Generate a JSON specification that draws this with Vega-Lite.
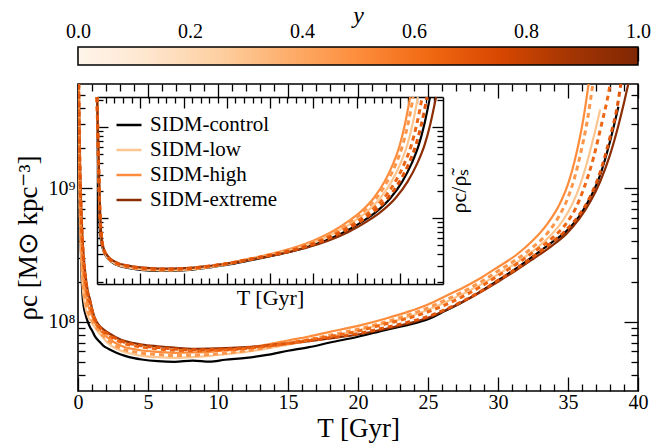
{
"$schema": "https://vega.github.io/schema/vega-lite/v6.json",
"width": 560,
"height": 307,
"autosize": {"type": "none"},
"padding": {"left": 78, "top": 84, "right": 25, "bottom": 54},
"config": {
  "font": "Liberation Serif",
  "view": {"stroke": "black", "strokeWidth": 1.6},
  "axis": {"grid": false, "domain": false, "domainColor": "black", "domainWidth": 1.5, "tickColor": "black", "tickWidth": 1.3, "labelColor": "black", "titleColor": "black", "labelFont": "Liberation Serif", "titleFont": "Liberation Serif", "titleFontWeight": "normal", "labelFontSize": 20, "titleFontSize": 27, "zindex": 1, "labelFlush": false, "labelOverlap": false},
  "legend": {"labelFont": "Liberation Serif", "labelColor": "black"}
},
"datasets": {
"main": [
{"series":"SIDM-control","T":0,"logrho":10.4},{"series":"SIDM-control","T":0.04,"logrho":9.8},{"series":"SIDM-control","T":0.08,"logrho":9.3},{"series":"SIDM-control","T":0.14,"logrho":8.85},{"series":"SIDM-control","T":0.2,"logrho":8.55},{"series":"SIDM-control","T":0.26,"logrho":8.33},{"series":"SIDM-control","T":0.32,"logrho":8.2},{"series":"SIDM-control","T":0.4,"logrho":8.12},{"series":"SIDM-control","T":0.55,"logrho":8.05},{"series":"SIDM-control","T":0.7,"logrho":8.0},{"series":"SIDM-control","T":0.86,"logrho":7.96},{"series":"SIDM-control","T":1.0,"logrho":7.935},{"series":"SIDM-control","T":1.2,"logrho":7.893},{"series":"SIDM-control","T":1.5,"logrho":7.855},{"series":"SIDM-control","T":1.8,"logrho":7.822},{"series":"SIDM-control","T":2.16,"logrho":7.798},{"series":"SIDM-control","T":2.7,"logrho":7.77},{"series":"SIDM-control","T":3.36,"logrho":7.745},{"series":"SIDM-control","T":4.0,"logrho":7.728},{"series":"SIDM-control","T":4.55,"logrho":7.718},{"series":"SIDM-control","T":5.7,"logrho":7.705},{"series":"SIDM-control","T":6.9,"logrho":7.7},{"series":"SIDM-control","T":8.2,"logrho":7.71},{"series":"SIDM-control","T":9.4,"logrho":7.702},{"series":"SIDM-control","T":10.5,"logrho":7.716},{"series":"SIDM-control","T":12,"logrho":7.73},{"series":"SIDM-control","T":13.5,"logrho":7.752},{"series":"SIDM-control","T":15,"logrho":7.783},{"series":"SIDM-control","T":16.5,"logrho":7.81},{"series":"SIDM-control","T":18,"logrho":7.845},{"series":"SIDM-control","T":20,"logrho":7.888},{"series":"SIDM-control","T":22,"logrho":7.94},{"series":"SIDM-control","T":23.7,"logrho":7.98},{"series":"SIDM-control","T":25,"logrho":8.02},{"series":"SIDM-control","T":26.2,"logrho":8.08},{"series":"SIDM-control","T":27.5,"logrho":8.15},{"series":"SIDM-control","T":28.8,"logrho":8.23},{"series":"SIDM-control","T":30,"logrho":8.31},{"series":"SIDM-control","T":31.3,"logrho":8.4},{"series":"SIDM-control","T":32.5,"logrho":8.49},{"series":"SIDM-control","T":33.8,"logrho":8.59},{"series":"SIDM-control","T":35,"logrho":8.69},{"series":"SIDM-control","T":35.8,"logrho":8.79},{"series":"SIDM-control","T":36.6,"logrho":8.93},{"series":"SIDM-control","T":37.3,"logrho":9.1},{"series":"SIDM-control","T":38,"logrho":9.35},{"series":"SIDM-control","T":38.6,"logrho":9.61},
{"series":"SIDM-low","T":0,"logrho":10.2},{"series":"SIDM-low","T":0.04,"logrho":9.6},{"series":"SIDM-low","T":0.08,"logrho":9.15},{"series":"SIDM-low","T":0.14,"logrho":8.8},{"series":"SIDM-low","T":0.2,"logrho":8.58},{"series":"SIDM-low","T":0.26,"logrho":8.41},{"series":"SIDM-low","T":0.32,"logrho":8.28},{"series":"SIDM-low","T":0.4,"logrho":8.19},{"series":"SIDM-low","T":0.55,"logrho":8.1},{"series":"SIDM-low","T":0.7,"logrho":8.045},{"series":"SIDM-low","T":0.86,"logrho":8.015},{"series":"SIDM-low","T":1.0,"logrho":7.99},{"series":"SIDM-low","T":1.2,"logrho":7.96},{"series":"SIDM-low","T":1.5,"logrho":7.915},{"series":"SIDM-low","T":1.8,"logrho":7.88},{"series":"SIDM-low","T":2.16,"logrho":7.838},{"series":"SIDM-low","T":2.7,"logrho":7.8},{"series":"SIDM-low","T":3.36,"logrho":7.772},{"series":"SIDM-low","T":4.0,"logrho":7.755},{"series":"SIDM-low","T":4.55,"logrho":7.745},{"series":"SIDM-low","T":5.7,"logrho":7.735},{"series":"SIDM-low","T":6.9,"logrho":7.73},{"series":"SIDM-low","T":8.2,"logrho":7.735},{"series":"SIDM-low","T":9.4,"logrho":7.745},{"series":"SIDM-low","T":10.5,"logrho":7.757},{"series":"SIDM-low","T":12,"logrho":7.775},{"series":"SIDM-low","T":13.5,"logrho":7.8},{"series":"SIDM-low","T":15,"logrho":7.828},{"series":"SIDM-low","T":16.5,"logrho":7.858},{"series":"SIDM-low","T":18,"logrho":7.89},{"series":"SIDM-low","T":20,"logrho":7.935},{"series":"SIDM-low","T":22,"logrho":7.99},{"series":"SIDM-low","T":23.7,"logrho":8.04},{"series":"SIDM-low","T":25,"logrho":8.09},{"series":"SIDM-low","T":26.2,"logrho":8.145},{"series":"SIDM-low","T":27.5,"logrho":8.21},{"series":"SIDM-low","T":28.8,"logrho":8.28},{"series":"SIDM-low","T":30,"logrho":8.355},{"series":"SIDM-low","T":31.3,"logrho":8.44},{"series":"SIDM-low","T":32.5,"logrho":8.53},{"series":"SIDM-low","T":33.5,"logrho":8.62},{"series":"SIDM-low","T":34.3,"logrho":8.71},{"series":"SIDM-low","T":35,"logrho":8.82},{"series":"SIDM-low","T":35.6,"logrho":8.95},{"series":"SIDM-low","T":36.3,"logrho":9.17},{"series":"SIDM-low","T":36.8,"logrho":9.37},{"series":"SIDM-low","T":37.3,"logrho":9.59},
{"series":"SIDM-high","T":0,"logrho":10.4},{"series":"SIDM-high","T":0.04,"logrho":9.8},{"series":"SIDM-high","T":0.08,"logrho":9.35},{"series":"SIDM-high","T":0.14,"logrho":9.0},{"series":"SIDM-high","T":0.2,"logrho":8.75},{"series":"SIDM-high","T":0.26,"logrho":8.57},{"series":"SIDM-high","T":0.32,"logrho":8.44},{"series":"SIDM-high","T":0.4,"logrho":8.33},{"series":"SIDM-high","T":0.55,"logrho":8.21},{"series":"SIDM-high","T":0.7,"logrho":8.13},{"series":"SIDM-high","T":0.86,"logrho":8.08},{"series":"SIDM-high","T":1.0,"logrho":8.045},{"series":"SIDM-high","T":1.2,"logrho":7.995},{"series":"SIDM-high","T":1.5,"logrho":7.945},{"series":"SIDM-high","T":1.8,"logrho":7.91},{"series":"SIDM-high","T":2.16,"logrho":7.878},{"series":"SIDM-high","T":2.7,"logrho":7.84},{"series":"SIDM-high","T":3.36,"logrho":7.81},{"series":"SIDM-high","T":4.0,"logrho":7.795},{"series":"SIDM-high","T":4.55,"logrho":7.785},{"series":"SIDM-high","T":5.7,"logrho":7.775},{"series":"SIDM-high","T":6.9,"logrho":7.768},{"series":"SIDM-high","T":8.2,"logrho":7.77},{"series":"SIDM-high","T":9.4,"logrho":7.775},{"series":"SIDM-high","T":10.5,"logrho":7.785},{"series":"SIDM-high","T":12,"logrho":7.803},{"series":"SIDM-high","T":13.5,"logrho":7.83},{"series":"SIDM-high","T":15,"logrho":7.86},{"series":"SIDM-high","T":16.5,"logrho":7.89},{"series":"SIDM-high","T":18,"logrho":7.925},{"series":"SIDM-high","T":20,"logrho":7.97},{"series":"SIDM-high","T":22,"logrho":8.025},{"series":"SIDM-high","T":23.7,"logrho":8.08},{"series":"SIDM-high","T":25,"logrho":8.13},{"series":"SIDM-high","T":26.2,"logrho":8.19},{"series":"SIDM-high","T":27.5,"logrho":8.255},{"series":"SIDM-high","T":28.8,"logrho":8.33},{"series":"SIDM-high","T":30,"logrho":8.41},{"series":"SIDM-high","T":31.3,"logrho":8.5},{"series":"SIDM-high","T":32.5,"logrho":8.61},{"series":"SIDM-high","T":33.5,"logrho":8.73},{"series":"SIDM-high","T":34.4,"logrho":8.88},{"series":"SIDM-high","T":35,"logrho":9.03},{"series":"SIDM-high","T":35.6,"logrho":9.26},{"series":"SIDM-high","T":36.1,"logrho":9.52},{"series":"SIDM-high","T":36.5,"logrho":9.8},
{"series":"SIDM-extreme","T":0,"logrho":10.7},{"series":"SIDM-extreme","T":0.04,"logrho":10.0},{"series":"SIDM-extreme","T":0.08,"logrho":9.6},{"series":"SIDM-extreme","T":0.14,"logrho":9.2},{"series":"SIDM-extreme","T":0.2,"logrho":8.95},{"series":"SIDM-extreme","T":0.26,"logrho":8.77},{"series":"SIDM-extreme","T":0.32,"logrho":8.63},{"series":"SIDM-extreme","T":0.4,"logrho":8.5},{"series":"SIDM-extreme","T":0.55,"logrho":8.34},{"series":"SIDM-extreme","T":0.7,"logrho":8.23},{"series":"SIDM-extreme","T":0.86,"logrho":8.167},{"series":"SIDM-extreme","T":1.0,"logrho":8.1},{"series":"SIDM-extreme","T":1.2,"logrho":8.03},{"series":"SIDM-extreme","T":1.5,"logrho":7.975},{"series":"SIDM-extreme","T":1.8,"logrho":7.945},{"series":"SIDM-extreme","T":2.16,"logrho":7.918},{"series":"SIDM-extreme","T":2.7,"logrho":7.885},{"series":"SIDM-extreme","T":3.36,"logrho":7.855},{"series":"SIDM-extreme","T":4.0,"logrho":7.84},{"series":"SIDM-extreme","T":4.55,"logrho":7.83},{"series":"SIDM-extreme","T":5.7,"logrho":7.817},{"series":"SIDM-extreme","T":6.9,"logrho":7.806},{"series":"SIDM-extreme","T":8.2,"logrho":7.798},{"series":"SIDM-extreme","T":9.4,"logrho":7.8},{"series":"SIDM-extreme","T":10.5,"logrho":7.803},{"series":"SIDM-extreme","T":12,"logrho":7.81},{"series":"SIDM-extreme","T":13.5,"logrho":7.823},{"series":"SIDM-extreme","T":15,"logrho":7.838},{"series":"SIDM-extreme","T":16.5,"logrho":7.855},{"series":"SIDM-extreme","T":18,"logrho":7.875},{"series":"SIDM-extreme","T":20,"logrho":7.905},{"series":"SIDM-extreme","T":22,"logrho":7.948},{"series":"SIDM-extreme","T":23.7,"logrho":7.99},{"series":"SIDM-extreme","T":25,"logrho":8.03},{"series":"SIDM-extreme","T":26.2,"logrho":8.085},{"series":"SIDM-extreme","T":27.5,"logrho":8.15},{"series":"SIDM-extreme","T":28.8,"logrho":8.225},{"series":"SIDM-extreme","T":30,"logrho":8.3},{"series":"SIDM-extreme","T":31.3,"logrho":8.385},{"series":"SIDM-extreme","T":32.5,"logrho":8.47},{"series":"SIDM-extreme","T":33.8,"logrho":8.565},{"series":"SIDM-extreme","T":34.9,"logrho":8.66},{"series":"SIDM-extreme","T":35.8,"logrho":8.77},{"series":"SIDM-extreme","T":36.6,"logrho":8.9},{"series":"SIDM-extreme","T":37.3,"logrho":9.05},{"series":"SIDM-extreme","T":38,"logrho":9.25},{"series":"SIDM-extreme","T":38.6,"logrho":9.47},{"series":"SIDM-extreme","T":39,"logrho":9.64},{"series":"SIDM-extreme","T":39.35,"logrho":9.8},
{"series":"y=0.375","y_param":0.375,"T":0,"logrho":10.3},{"series":"y=0.375","y_param":0.375,"T":0.04,"logrho":9.7},{"series":"y=0.375","y_param":0.375,"T":0.08,"logrho":9.25},{"series":"y=0.375","y_param":0.375,"T":0.14,"logrho":8.9},{"series":"y=0.375","y_param":0.375,"T":0.2,"logrho":8.65},{"series":"y=0.375","y_param":0.375,"T":0.26,"logrho":8.47},{"series":"y=0.375","y_param":0.375,"T":0.32,"logrho":8.35},{"series":"y=0.375","y_param":0.375,"T":0.4,"logrho":8.25},{"series":"y=0.375","y_param":0.375,"T":0.55,"logrho":8.15},{"series":"y=0.375","y_param":0.375,"T":0.7,"logrho":8.08},{"series":"y=0.375","y_param":0.375,"T":0.86,"logrho":8.045},{"series":"y=0.375","y_param":0.375,"T":1.0,"logrho":8.015},{"series":"y=0.375","y_param":0.375,"T":1.2,"logrho":7.975},{"series":"y=0.375","y_param":0.375,"T":1.5,"logrho":7.93},{"series":"y=0.375","y_param":0.375,"T":1.8,"logrho":7.895},{"series":"y=0.375","y_param":0.375,"T":2.16,"logrho":7.86},{"series":"y=0.375","y_param":0.375,"T":2.7,"logrho":7.82},{"series":"y=0.375","y_param":0.375,"T":3.36,"logrho":7.79},{"series":"y=0.375","y_param":0.375,"T":4.0,"logrho":7.775},{"series":"y=0.375","y_param":0.375,"T":4.55,"logrho":7.765},{"series":"y=0.375","y_param":0.375,"T":5.7,"logrho":7.755},{"series":"y=0.375","y_param":0.375,"T":6.9,"logrho":7.748},{"series":"y=0.375","y_param":0.375,"T":8.2,"logrho":7.75},{"series":"y=0.375","y_param":0.375,"T":9.4,"logrho":7.755},{"series":"y=0.375","y_param":0.375,"T":10.5,"logrho":7.765},{"series":"y=0.375","y_param":0.375,"T":12,"logrho":7.783},{"series":"y=0.375","y_param":0.375,"T":13.5,"logrho":7.808},{"series":"y=0.375","y_param":0.375,"T":15,"logrho":7.837},{"series":"y=0.375","y_param":0.375,"T":16.5,"logrho":7.867},{"series":"y=0.375","y_param":0.375,"T":18,"logrho":7.9},{"series":"y=0.375","y_param":0.375,"T":20,"logrho":7.945},{"series":"y=0.375","y_param":0.375,"T":22,"logrho":8.0},{"series":"y=0.375","y_param":0.375,"T":23.7,"logrho":8.055},{"series":"y=0.375","y_param":0.375,"T":25,"logrho":8.105},{"series":"y=0.375","y_param":0.375,"T":26.2,"logrho":8.16},{"series":"y=0.375","y_param":0.375,"T":27.5,"logrho":8.225},{"series":"y=0.375","y_param":0.375,"T":28.8,"logrho":8.3},{"series":"y=0.375","y_param":0.375,"T":30,"logrho":8.38},{"series":"y=0.375","y_param":0.375,"T":31.3,"logrho":8.465},{"series":"y=0.375","y_param":0.375,"T":32.5,"logrho":8.56},{"series":"y=0.375","y_param":0.375,"T":33.5,"logrho":8.66},{"series":"y=0.375","y_param":0.375,"T":34.3,"logrho":8.78},{"series":"y=0.375","y_param":0.375,"T":35,"logrho":8.93},{"series":"y=0.375","y_param":0.375,"T":35.5,"logrho":9.09},{"series":"y=0.375","y_param":0.375,"T":35.9,"logrho":9.26},{"series":"y=0.375","y_param":0.375,"T":36.4,"logrho":9.52},{"series":"y=0.375","y_param":0.375,"T":36.8,"logrho":9.8},
{"series":"y=0.62","y_param":0.62,"T":0,"logrho":10.6},{"series":"y=0.62","y_param":0.62,"T":0.04,"logrho":9.95},{"series":"y=0.62","y_param":0.62,"T":0.08,"logrho":9.5},{"series":"y=0.62","y_param":0.62,"T":0.14,"logrho":9.12},{"series":"y=0.62","y_param":0.62,"T":0.2,"logrho":8.87},{"series":"y=0.62","y_param":0.62,"T":0.26,"logrho":8.69},{"series":"y=0.62","y_param":0.62,"T":0.32,"logrho":8.56},{"series":"y=0.62","y_param":0.62,"T":0.4,"logrho":8.44},{"series":"y=0.62","y_param":0.62,"T":0.55,"logrho":8.29},{"series":"y=0.62","y_param":0.62,"T":0.7,"logrho":8.19},{"series":"y=0.62","y_param":0.62,"T":0.86,"logrho":8.13},{"series":"y=0.62","y_param":0.62,"T":1.0,"logrho":8.075},{"series":"y=0.62","y_param":0.62,"T":1.2,"logrho":8.01},{"series":"y=0.62","y_param":0.62,"T":1.5,"logrho":7.955},{"series":"y=0.62","y_param":0.62,"T":1.8,"logrho":7.925},{"series":"y=0.62","y_param":0.62,"T":2.16,"logrho":7.898},{"series":"y=0.62","y_param":0.62,"T":2.7,"logrho":7.865},{"series":"y=0.62","y_param":0.62,"T":3.36,"logrho":7.835},{"series":"y=0.62","y_param":0.62,"T":4.0,"logrho":7.82},{"series":"y=0.62","y_param":0.62,"T":4.55,"logrho":7.81},{"series":"y=0.62","y_param":0.62,"T":5.7,"logrho":7.797},{"series":"y=0.62","y_param":0.62,"T":6.9,"logrho":7.787},{"series":"y=0.62","y_param":0.62,"T":8.2,"logrho":7.782},{"series":"y=0.62","y_param":0.62,"T":9.4,"logrho":7.785},{"series":"y=0.62","y_param":0.62,"T":10.5,"logrho":7.79},{"series":"y=0.62","y_param":0.62,"T":12,"logrho":7.8},{"series":"y=0.62","y_param":0.62,"T":13.5,"logrho":7.818},{"series":"y=0.62","y_param":0.62,"T":15,"logrho":7.84},{"series":"y=0.62","y_param":0.62,"T":16.5,"logrho":7.865},{"series":"y=0.62","y_param":0.62,"T":18,"logrho":7.89},{"series":"y=0.62","y_param":0.62,"T":20,"logrho":7.93},{"series":"y=0.62","y_param":0.62,"T":22,"logrho":7.985},{"series":"y=0.62","y_param":0.62,"T":23.7,"logrho":8.03},{"series":"y=0.62","y_param":0.62,"T":25,"logrho":8.075},{"series":"y=0.62","y_param":0.62,"T":26.2,"logrho":8.125},{"series":"y=0.62","y_param":0.62,"T":27.5,"logrho":8.19},{"series":"y=0.62","y_param":0.62,"T":28.8,"logrho":8.265},{"series":"y=0.62","y_param":0.62,"T":30,"logrho":8.345},{"series":"y=0.62","y_param":0.62,"T":31.3,"logrho":8.43},{"series":"y=0.62","y_param":0.62,"T":32.5,"logrho":8.52},{"series":"y=0.62","y_param":0.62,"T":33.8,"logrho":8.62},{"series":"y=0.62","y_param":0.62,"T":34.9,"logrho":8.74},{"series":"y=0.62","y_param":0.62,"T":35.5,"logrho":8.84},{"series":"y=0.62","y_param":0.62,"T":36.1,"logrho":8.99},{"series":"y=0.62","y_param":0.62,"T":36.8,"logrho":9.22},{"series":"y=0.62","y_param":0.62,"T":37.4,"logrho":9.48},{"series":"y=0.62","y_param":0.62,"T":37.8,"logrho":9.66},{"series":"y=0.62","y_param":0.62,"T":38.05,"logrho":9.8},
{"series":"y=0.72","y_param":0.72,"T":0,"logrho":10.65},{"series":"y=0.72","y_param":0.72,"T":0.04,"logrho":9.97},{"series":"y=0.72","y_param":0.72,"T":0.08,"logrho":9.55},{"series":"y=0.72","y_param":0.72,"T":0.14,"logrho":9.16},{"series":"y=0.72","y_param":0.72,"T":0.2,"logrho":8.91},{"series":"y=0.72","y_param":0.72,"T":0.26,"logrho":8.73},{"series":"y=0.72","y_param":0.72,"T":0.32,"logrho":8.6},{"series":"y=0.72","y_param":0.72,"T":0.4,"logrho":8.47},{"series":"y=0.72","y_param":0.72,"T":0.55,"logrho":8.315},{"series":"y=0.72","y_param":0.72,"T":0.7,"logrho":8.21},{"series":"y=0.72","y_param":0.72,"T":0.86,"logrho":8.15},{"series":"y=0.72","y_param":0.72,"T":1.0,"logrho":8.088},{"series":"y=0.72","y_param":0.72,"T":1.2,"logrho":8.02},{"series":"y=0.72","y_param":0.72,"T":1.5,"logrho":7.965},{"series":"y=0.72","y_param":0.72,"T":1.8,"logrho":7.935},{"series":"y=0.72","y_param":0.72,"T":2.16,"logrho":7.908},{"series":"y=0.72","y_param":0.72,"T":2.7,"logrho":7.875},{"series":"y=0.72","y_param":0.72,"T":3.36,"logrho":7.845},{"series":"y=0.72","y_param":0.72,"T":4.0,"logrho":7.83},{"series":"y=0.72","y_param":0.72,"T":4.55,"logrho":7.82},{"series":"y=0.72","y_param":0.72,"T":5.7,"logrho":7.807},{"series":"y=0.72","y_param":0.72,"T":6.9,"logrho":7.797},{"series":"y=0.72","y_param":0.72,"T":8.2,"logrho":7.79},{"series":"y=0.72","y_param":0.72,"T":9.4,"logrho":7.792},{"series":"y=0.72","y_param":0.72,"T":10.5,"logrho":7.796},{"series":"y=0.72","y_param":0.72,"T":12,"logrho":7.805},{"series":"y=0.72","y_param":0.72,"T":13.5,"logrho":7.82},{"series":"y=0.72","y_param":0.72,"T":15,"logrho":7.838},{"series":"y=0.72","y_param":0.72,"T":16.5,"logrho":7.858},{"series":"y=0.72","y_param":0.72,"T":18,"logrho":7.88},{"series":"y=0.72","y_param":0.72,"T":20,"logrho":7.912},{"series":"y=0.72","y_param":0.72,"T":22,"logrho":7.958},{"series":"y=0.72","y_param":0.72,"T":23.7,"logrho":8.0},{"series":"y=0.72","y_param":0.72,"T":25,"logrho":8.04},{"series":"y=0.72","y_param":0.72,"T":26.2,"logrho":8.09},{"series":"y=0.72","y_param":0.72,"T":27.5,"logrho":8.155},{"series":"y=0.72","y_param":0.72,"T":28.8,"logrho":8.23},{"series":"y=0.72","y_param":0.72,"T":30,"logrho":8.31},{"series":"y=0.72","y_param":0.72,"T":31.3,"logrho":8.395},{"series":"y=0.72","y_param":0.72,"T":32.5,"logrho":8.485},{"series":"y=0.72","y_param":0.72,"T":33.8,"logrho":8.59},{"series":"y=0.72","y_param":0.72,"T":34.9,"logrho":8.69},{"series":"y=0.72","y_param":0.72,"T":35.8,"logrho":8.8},{"series":"y=0.72","y_param":0.72,"T":36.6,"logrho":8.94},{"series":"y=0.72","y_param":0.72,"T":37.3,"logrho":9.12},{"series":"y=0.72","y_param":0.72,"T":38,"logrho":9.38},{"series":"y=0.72","y_param":0.72,"T":38.5,"logrho":9.6},{"series":"y=0.72","y_param":0.72,"T":38.8,"logrho":9.8}
],
"inset": [
{"series":"SIDM-high","T":0,"logratio":2.329},{"series":"SIDM-high","T":0.03,"logratio":1.7},{"series":"SIDM-high","T":0.06,"logratio":1.15},{"series":"SIDM-high","T":0.1,"logratio":0.8},{"series":"SIDM-high","T":0.15,"logratio":0.66},{"series":"SIDM-high","T":0.25,"logratio":0.57},{"series":"SIDM-high","T":0.45,"logratio":0.5},{"series":"SIDM-high","T":0.72,"logratio":0.465},{"series":"SIDM-high","T":1.0,"logratio":0.445},{"series":"SIDM-high","T":1.3,"logratio":0.435},{"series":"SIDM-high","T":1.6,"logratio":0.432},{"series":"SIDM-high","T":1.9,"logratio":0.435},{"series":"SIDM-high","T":2.2,"logratio":0.445},{"series":"SIDM-high","T":2.6,"logratio":0.47},{"series":"SIDM-high","T":3.0,"logratio":0.5},{"series":"SIDM-high","T":3.4,"logratio":0.54},{"series":"SIDM-high","T":3.8,"logratio":0.58},{"series":"SIDM-high","T":4.2,"logratio":0.625},{"series":"SIDM-high","T":4.6,"logratio":0.68},{"series":"SIDM-high","T":5.0,"logratio":0.75},{"series":"SIDM-high","T":5.4,"logratio":0.84},{"series":"SIDM-high","T":5.8,"logratio":0.96},{"series":"SIDM-high","T":6.1,"logratio":1.07},{"series":"SIDM-high","T":6.4,"logratio":1.22},{"series":"SIDM-high","T":6.65,"logratio":1.4},{"series":"SIDM-high","T":6.85,"logratio":1.6},{"series":"SIDM-high","T":7.0,"logratio":1.8},{"series":"SIDM-high","T":7.12,"logratio":2.03},{"series":"SIDM-high","T":7.24,"logratio":2.329},
{"series":"y=0.375","y_param":0.375,"T":0,"logratio":2.329},{"series":"y=0.375","y_param":0.375,"T":0.03,"logratio":1.69},{"series":"y=0.375","y_param":0.375,"T":0.06,"logratio":1.14},{"series":"y=0.375","y_param":0.375,"T":0.1,"logratio":0.795},{"series":"y=0.375","y_param":0.375,"T":0.15,"logratio":0.656},{"series":"y=0.375","y_param":0.375,"T":0.25,"logratio":0.566},{"series":"y=0.375","y_param":0.375,"T":0.45,"logratio":0.496},{"series":"y=0.375","y_param":0.375,"T":0.72,"logratio":0.461},{"series":"y=0.375","y_param":0.375,"T":1.0,"logratio":0.441},{"series":"y=0.375","y_param":0.375,"T":1.3,"logratio":0.431},{"series":"y=0.375","y_param":0.375,"T":1.6,"logratio":0.428},{"series":"y=0.375","y_param":0.375,"T":1.9,"logratio":0.431},{"series":"y=0.375","y_param":0.375,"T":2.203,"logratio":0.441},{"series":"y=0.375","y_param":0.375,"T":2.608,"logratio":0.466},{"series":"y=0.375","y_param":0.375,"T":3.013,"logratio":0.497},{"series":"y=0.375","y_param":0.375,"T":3.419,"logratio":0.537},{"series":"y=0.375","y_param":0.375,"T":3.824,"logratio":0.578},{"series":"y=0.375","y_param":0.375,"T":4.229,"logratio":0.624},{"series":"y=0.375","y_param":0.375,"T":4.635,"logratio":0.68},{"series":"y=0.375","y_param":0.375,"T":5.04,"logratio":0.75},{"series":"y=0.375","y_param":0.375,"T":5.446,"logratio":0.84},{"series":"y=0.375","y_param":0.375,"T":5.851,"logratio":0.96},{"series":"y=0.375","y_param":0.375,"T":6.155,"logratio":1.07},{"series":"y=0.375","y_param":0.375,"T":6.459,"logratio":1.22},{"series":"y=0.375","y_param":0.375,"T":6.712,"logratio":1.4},{"series":"y=0.375","y_param":0.375,"T":6.915,"logratio":1.6},{"series":"y=0.375","y_param":0.375,"T":7.067,"logratio":1.8},{"series":"y=0.375","y_param":0.375,"T":7.189,"logratio":2.03},{"series":"y=0.375","y_param":0.375,"T":7.31,"logratio":2.329},
{"series":"SIDM-low","T":0,"logratio":2.329},{"series":"SIDM-low","T":0.03,"logratio":1.68},{"series":"SIDM-low","T":0.06,"logratio":1.13},{"series":"SIDM-low","T":0.1,"logratio":0.79},{"series":"SIDM-low","T":0.15,"logratio":0.652},{"series":"SIDM-low","T":0.25,"logratio":0.562},{"series":"SIDM-low","T":0.45,"logratio":0.492},{"series":"SIDM-low","T":0.72,"logratio":0.457},{"series":"SIDM-low","T":1.0,"logratio":0.437},{"series":"SIDM-low","T":1.3,"logratio":0.427},{"series":"SIDM-low","T":1.6,"logratio":0.424},{"series":"SIDM-low","T":1.9,"logratio":0.427},{"series":"SIDM-low","T":2.207,"logratio":0.437},{"series":"SIDM-low","T":2.621,"logratio":0.463},{"series":"SIDM-low","T":3.034,"logratio":0.494},{"series":"SIDM-low","T":3.448,"logratio":0.535},{"series":"SIDM-low","T":3.862,"logratio":0.576},{"series":"SIDM-low","T":4.276,"logratio":0.622},{"series":"SIDM-low","T":4.689,"logratio":0.678},{"series":"SIDM-low","T":5.103,"logratio":0.749},{"series":"SIDM-low","T":5.517,"logratio":0.84},{"series":"SIDM-low","T":5.931,"logratio":0.96},{"series":"SIDM-low","T":6.241,"logratio":1.07},{"series":"SIDM-low","T":6.551,"logratio":1.22},{"series":"SIDM-low","T":6.81,"logratio":1.4},{"series":"SIDM-low","T":7.017,"logratio":1.6},{"series":"SIDM-low","T":7.172,"logratio":1.8},{"series":"SIDM-low","T":7.296,"logratio":2.03},{"series":"SIDM-low","T":7.42,"logratio":2.329},
{"series":"y=0.62","y_param":0.62,"T":0,"logratio":2.329},{"series":"y=0.62","y_param":0.62,"T":0.03,"logratio":1.71},{"series":"y=0.62","y_param":0.62,"T":0.06,"logratio":1.16},{"series":"y=0.62","y_param":0.62,"T":0.1,"logratio":0.805},{"series":"y=0.62","y_param":0.62,"T":0.15,"logratio":0.664},{"series":"y=0.62","y_param":0.62,"T":0.25,"logratio":0.574},{"series":"y=0.62","y_param":0.62,"T":0.45,"logratio":0.504},{"series":"y=0.62","y_param":0.62,"T":0.72,"logratio":0.469},{"series":"y=0.62","y_param":0.62,"T":1.0,"logratio":0.449},{"series":"y=0.62","y_param":0.62,"T":1.3,"logratio":0.439},{"series":"y=0.62","y_param":0.62,"T":1.6,"logratio":0.436},{"series":"y=0.62","y_param":0.62,"T":1.9,"logratio":0.439},{"series":"y=0.62","y_param":0.62,"T":2.211,"logratio":0.448},{"series":"y=0.62","y_param":0.62,"T":2.632,"logratio":0.472},{"series":"y=0.62","y_param":0.62,"T":3.053,"logratio":0.502},{"series":"y=0.62","y_param":0.62,"T":3.475,"logratio":0.541},{"series":"y=0.62","y_param":0.62,"T":3.896,"logratio":0.58},{"series":"y=0.62","y_param":0.62,"T":4.317,"logratio":0.625},{"series":"y=0.62","y_param":0.62,"T":4.739,"logratio":0.68},{"series":"y=0.62","y_param":0.62,"T":5.16,"logratio":0.75},{"series":"y=0.62","y_param":0.62,"T":5.582,"logratio":0.84},{"series":"y=0.62","y_param":0.62,"T":6.003,"logratio":0.96},{"series":"y=0.62","y_param":0.62,"T":6.319,"logratio":1.07},{"series":"y=0.62","y_param":0.62,"T":6.635,"logratio":1.22},{"series":"y=0.62","y_param":0.62,"T":6.898,"logratio":1.4},{"series":"y=0.62","y_param":0.62,"T":7.109,"logratio":1.6},{"series":"y=0.62","y_param":0.62,"T":7.267,"logratio":1.8},{"series":"y=0.62","y_param":0.62,"T":7.393,"logratio":2.03},{"series":"y=0.62","y_param":0.62,"T":7.52,"logratio":2.329},
{"series":"y=0.72","y_param":0.72,"T":0,"logratio":2.329},{"series":"y=0.72","y_param":0.72,"T":0.03,"logratio":1.72},{"series":"y=0.72","y_param":0.72,"T":0.06,"logratio":1.17},{"series":"y=0.72","y_param":0.72,"T":0.1,"logratio":0.81},{"series":"y=0.72","y_param":0.72,"T":0.15,"logratio":0.668},{"series":"y=0.72","y_param":0.72,"T":0.25,"logratio":0.578},{"series":"y=0.72","y_param":0.72,"T":0.45,"logratio":0.508},{"series":"y=0.72","y_param":0.72,"T":0.72,"logratio":0.473},{"series":"y=0.72","y_param":0.72,"T":1.0,"logratio":0.453},{"series":"y=0.72","y_param":0.72,"T":1.3,"logratio":0.443},{"series":"y=0.72","y_param":0.72,"T":1.6,"logratio":0.44},{"series":"y=0.72","y_param":0.72,"T":1.9,"logratio":0.443},{"series":"y=0.72","y_param":0.72,"T":2.215,"logratio":0.451},{"series":"y=0.72","y_param":0.72,"T":2.645,"logratio":0.475},{"series":"y=0.72","y_param":0.72,"T":3.074,"logratio":0.504},{"series":"y=0.72","y_param":0.72,"T":3.504,"logratio":0.543},{"series":"y=0.72","y_param":0.72,"T":3.934,"logratio":0.582},{"series":"y=0.72","y_param":0.72,"T":4.364,"logratio":0.626},{"series":"y=0.72","y_param":0.72,"T":4.793,"logratio":0.68},{"series":"y=0.72","y_param":0.72,"T":5.223,"logratio":0.75},{"series":"y=0.72","y_param":0.72,"T":5.653,"logratio":0.84},{"series":"y=0.72","y_param":0.72,"T":6.083,"logratio":0.96},{"series":"y=0.72","y_param":0.72,"T":6.405,"logratio":1.07},{"series":"y=0.72","y_param":0.72,"T":6.727,"logratio":1.22},{"series":"y=0.72","y_param":0.72,"T":6.996,"logratio":1.4},{"series":"y=0.72","y_param":0.72,"T":7.211,"logratio":1.6},{"series":"y=0.72","y_param":0.72,"T":7.372,"logratio":1.8},{"series":"y=0.72","y_param":0.72,"T":7.501,"logratio":2.03},{"series":"y=0.72","y_param":0.72,"T":7.63,"logratio":2.329},
{"series":"SIDM-control","T":0,"logratio":2.329},{"series":"SIDM-control","T":0.025,"logratio":1.6},{"series":"SIDM-control","T":0.05,"logratio":1.08},{"series":"SIDM-control","T":0.09,"logratio":0.76},{"series":"SIDM-control","T":0.15,"logratio":0.64},{"series":"SIDM-control","T":0.25,"logratio":0.555},{"series":"SIDM-control","T":0.45,"logratio":0.485},{"series":"SIDM-control","T":0.72,"logratio":0.45},{"series":"SIDM-control","T":1.0,"logratio":0.43},{"series":"SIDM-control","T":1.3,"logratio":0.42},{"series":"SIDM-control","T":1.6,"logratio":0.418},{"series":"SIDM-control","T":1.9,"logratio":0.422},{"series":"SIDM-control","T":2.218,"logratio":0.433},{"series":"SIDM-control","T":2.653,"logratio":0.46},{"series":"SIDM-control","T":3.088,"logratio":0.492},{"series":"SIDM-control","T":3.523,"logratio":0.533},{"series":"SIDM-control","T":3.958,"logratio":0.575},{"series":"SIDM-control","T":4.393,"logratio":0.621},{"series":"SIDM-control","T":4.828,"logratio":0.677},{"series":"SIDM-control","T":5.263,"logratio":0.748},{"series":"SIDM-control","T":5.699,"logratio":0.84},{"series":"SIDM-control","T":6.134,"logratio":0.96},{"series":"SIDM-control","T":6.46,"logratio":1.07},{"series":"SIDM-control","T":6.786,"logratio":1.22},{"series":"SIDM-control","T":7.058,"logratio":1.4},{"series":"SIDM-control","T":7.276,"logratio":1.6},{"series":"SIDM-control","T":7.439,"logratio":1.8},{"series":"SIDM-control","T":7.569,"logratio":2.03},{"series":"SIDM-control","T":7.7,"logratio":2.329},
{"series":"SIDM-extreme","T":0,"logratio":2.329},{"series":"SIDM-extreme","T":0.035,"logratio":1.72},{"series":"SIDM-extreme","T":0.065,"logratio":1.18},{"series":"SIDM-extreme","T":0.1,"logratio":0.815},{"series":"SIDM-extreme","T":0.15,"logratio":0.672},{"series":"SIDM-extreme","T":0.25,"logratio":0.582},{"series":"SIDM-extreme","T":0.45,"logratio":0.512},{"series":"SIDM-extreme","T":0.72,"logratio":0.477},{"series":"SIDM-extreme","T":1.0,"logratio":0.457},{"series":"SIDM-extreme","T":1.3,"logratio":0.447},{"series":"SIDM-extreme","T":1.6,"logratio":0.444},{"series":"SIDM-extreme","T":1.9,"logratio":0.447},{"series":"SIDM-extreme","T":2.223,"logratio":0.455},{"series":"SIDM-extreme","T":2.669,"logratio":0.478},{"series":"SIDM-extreme","T":3.115,"logratio":0.506},{"series":"SIDM-extreme","T":3.56,"logratio":0.544},{"series":"SIDM-extreme","T":4.006,"logratio":0.583},{"series":"SIDM-extreme","T":4.452,"logratio":0.627},{"series":"SIDM-extreme","T":4.898,"logratio":0.681},{"series":"SIDM-extreme","T":5.344,"logratio":0.75},{"series":"SIDM-extreme","T":5.789,"logratio":0.84},{"series":"SIDM-extreme","T":6.235,"logratio":0.96},{"series":"SIDM-extreme","T":6.569,"logratio":1.07},{"series":"SIDM-extreme","T":6.904,"logratio":1.22},{"series":"SIDM-extreme","T":7.182,"logratio":1.4},{"series":"SIDM-extreme","T":7.405,"logratio":1.6},{"series":"SIDM-extreme","T":7.573,"logratio":1.8},{"series":"SIDM-extreme","T":7.706,"logratio":2.03},{"series":"SIDM-extreme","T":7.84,"logratio":2.329}
]
},
"layer": [
{
  "data": {"name": "main"},
  "layer": [
    {
      "transform": [{"filter": "datum.series == 'SIDM-control'"}],
      "mark": {"type": "line", "strokeWidth": 2.2, "clip": true, "interpolate": "monotone"},
      "encoding": {
        "x": {"field": "T", "type": "quantitative", "scale": {"domain": [0, 40], "nice": false, "zero": false},
              "axis": {"orient": "bottom", "values": [0,5,10,15,20,25,30,35,40], "tickSize": -14, "labelPadding": 15, "title": "T [Gyr]", "titlePadding": 3}},
        "y": {"field": "logrho", "type": "quantitative", "scale": {"domain": [7.482, 9.78], "nice": false, "zero": false},
              "axis": {"orient": "left", "values": [8, 9], "labelExpr": "datum.value < 8.5 ? '10⁸' : '10⁹'", "tickSize": -14, "labelPadding": 17, "title": "ρc [M⊙ kpc⁻³]", "titlePadding": 6}},
        "stroke": {"field": "series", "type": "nominal",
                   "scale": {"domain": ["SIDM-control", "SIDM-low", "SIDM-high", "SIDM-extreme"], "range": ["#000000", "#fdc590", "#fd8d3c", "#8c2d04"]},
                   "legend": {"orient": "none", "legendX": 37, "legendY": 27, "title": null, "symbolType": "stroke", "symbolSize": 625, "symbolStrokeWidth": 2.5, "labelFontSize": 21, "labelOffset": 7, "rowPadding": 1, "padding": 0}}
      }
    },
    {
      "transform": [{"filter": "indexof(['SIDM-low','SIDM-high','SIDM-extreme'], datum.series) >= 0"}],
      "mark": {"type": "line", "strokeWidth": 2.2, "clip": true, "interpolate": "monotone"},
      "encoding": {
        "x": {"field": "T", "type": "quantitative",
              "axis": {"orient": "bottom", "values": [1,2,3,4,6,7,8,9,11,12,13,14,16,17,18,19,21,22,23,24,26,27,28,29,31,32,33,34,36,37,38,39], "tickSize": -7, "labels": false, "title": null}},
        "y": {"field": "logrho", "type": "quantitative",
              "axis": {"orient": "left", "values": [7.602,7.699,7.778,7.845,7.903,7.954,8.301,8.477,8.602,8.699,8.778,8.845,8.903,8.954,9.301,9.477,9.602,9.699], "tickSize": -7, "labels": false, "title": null}},
        "stroke": {"field": "series", "type": "nominal",
                   "scale": {"domain": ["SIDM-control", "SIDM-low", "SIDM-high", "SIDM-extreme"], "range": ["#000000", "#fdc590", "#fd8d3c", "#8c2d04"]},
                   "legend": {"orient": "none", "legendX": 37, "legendY": 27, "title": null, "symbolType": "stroke", "symbolSize": 625, "symbolStrokeWidth": 2.5, "labelFontSize": 21, "labelOffset": 7, "rowPadding": 1, "padding": 0}}
      }
    },
    {
      "transform": [{"filter": "datum.series == 'y=0.375'"}],
      "mark": {"type": "line", "strokeWidth": 3, "strokeDash": [5, 4], "clip": true, "interpolate": "monotone"},
      "encoding": {
        "x": {"field": "T", "type": "quantitative",
              "axis": {"orient": "top", "values": [0,5,10,15,20,25,30,35,40], "tickSize": -14, "labels": false, "title": null}},
        "y": {"field": "logrho", "type": "quantitative",
              "axis": {"orient": "right", "values": [8, 9], "tickSize": -14, "labels": false, "title": null}},
        "color": {"field": "y_param", "type": "quantitative", "scale": {"scheme": "oranges", "domain": [0, 1]}, "legend": null},
        "detail": {"field": "series"}
      }
    },
    {
      "transform": [{"filter": "datum.series == 'y=0.62' || datum.series == 'y=0.72'"}],
      "mark": {"type": "line", "strokeWidth": 3, "strokeDash": [5, 4], "clip": true, "interpolate": "monotone"},
      "encoding": {
        "x": {"field": "T", "type": "quantitative",
              "axis": {"orient": "top", "values": [1,2,3,4,6,7,8,9,11,12,13,14,16,17,18,19,21,22,23,24,26,27,28,29,31,32,33,34,36,37,38,39], "tickSize": -7, "labels": false, "title": null}},
        "y": {"field": "logrho", "type": "quantitative",
              "axis": {"orient": "right", "values": [7.602,7.699,7.778,7.845,7.903,7.954,8.301,8.477,8.602,8.699,8.778,8.845,8.903,8.954,9.301,9.477,9.602,9.699], "tickSize": -7, "labels": false, "title": null}},
        "color": {"field": "y_param", "type": "quantitative", "scale": {"scheme": "oranges", "domain": [0, 1]}, "legend": null},
        "detail": {"field": "series"}
      }
    }
  ],
  "resolve": {"axis": {"x": "independent", "y": "independent"}}
},
{
  "data": {"name": "inset"},
  "layer": [
    {
      "transform": [{"filter": "datum.series == 'SIDM-control'"}],
      "mark": {"type": "line", "strokeWidth": 2.2, "interpolate": "monotone"},
      "encoding": {
        "x": {"field": "T", "type": "quantitative", "scale": {"domain": [0, 8], "range": [19, 365], "nice": false, "zero": false},
              "axis": {"orient": "bottom", "offset": -107, "values": [1,2,3,4,5,6,7], "tickSize": -11, "labels": false, "domain": true, "title": "T [Gyr]", "titleFontSize": 22, "titlePadding": 3}},
        "y": {"field": "logratio", "type": "quantitative", "scale": {"domain": [0.2747, 2.3297], "range": [200, 13], "nice": false, "zero": false},
              "axis": {"orient": "left", "offset": -19, "values": [1, 2], "tickSize": -11, "labels": false, "domain": true, "title": null}},
        "stroke": {"field": "series", "type": "nominal",
                   "scale": {"domain": ["SIDM-control", "SIDM-low", "SIDM-high", "SIDM-extreme"], "range": ["#000000", "#fdc590", "#fd8d3c", "#8c2d04"]}, "legend": null}
      }
    },
    {
      "transform": [{"filter": "indexof(['SIDM-low','SIDM-high','SIDM-extreme'], datum.series) >= 0"}],
      "mark": {"type": "line", "strokeWidth": 2.2, "interpolate": "monotone"},
      "encoding": {
        "x": {"field": "T", "type": "quantitative",
              "axis": {"orient": "bottom", "offset": -107, "values": [0.2,0.4,0.6,0.8,1.2,1.4,1.6,1.8,2.2,2.4,2.6,2.8,3.2,3.4,3.6,3.8,4.2,4.4,4.6,4.8,5.2,5.4,5.6,5.8,6.2,6.4,6.6,6.8,7.2,7.4,7.6,7.8], "tickSize": -6, "labels": false, "title": null}},
        "y": {"field": "logratio", "type": "quantitative",
              "axis": {"orient": "left", "offset": -19, "values": [0.301,0.477,0.602,0.699,0.778,0.845,0.903,0.954,1.301,1.477,1.602,1.699,1.778,1.845,1.903,1.954,2.301], "tickSize": -6, "labels": false, "title": null}},
        "stroke": {"field": "series", "type": "nominal",
                   "scale": {"domain": ["SIDM-control", "SIDM-low", "SIDM-high", "SIDM-extreme"], "range": ["#000000", "#fdc590", "#fd8d3c", "#8c2d04"]}, "legend": null}
      }
    },
    {
      "transform": [{"filter": "datum.series == 'y=0.375'"}],
      "mark": {"type": "line", "strokeWidth": 3, "strokeDash": [5, 4], "interpolate": "monotone"},
      "encoding": {
        "x": {"field": "T", "type": "quantitative",
              "axis": {"orient": "top", "offset": -13, "values": [1,2,3,4,5,6,7], "tickSize": -11, "labels": false, "domain": true, "title": null}},
        "y": {"field": "logratio", "type": "quantitative",
              "axis": {"orient": "right", "offset": -195, "values": [1, 2], "tickSize": -11, "labels": false, "domain": true, "title": "ρc/ρ̃ₛ", "titleFontSize": 22, "titleAngle": 270, "titleAlign": "center", "titleBaseline": "top", "titlePadding": 5}},
        "color": {"field": "y_param", "type": "quantitative", "scale": {"scheme": "oranges", "domain": [0, 1]}, "legend": null},
        "detail": {"field": "series"}
      }
    },
    {
      "transform": [{"filter": "datum.series == 'y=0.62' || datum.series == 'y=0.72'"}],
      "mark": {"type": "line", "strokeWidth": 3, "strokeDash": [5, 4], "interpolate": "monotone"},
      "encoding": {
        "x": {"field": "T", "type": "quantitative",
              "axis": {"orient": "top", "offset": -13, "values": [0.2,0.4,0.6,0.8,1.2,1.4,1.6,1.8,2.2,2.4,2.6,2.8,3.2,3.4,3.6,3.8,4.2,4.4,4.6,4.8,5.2,5.4,5.6,5.8,6.2,6.4,6.6,6.8,7.2,7.4,7.6,7.8], "tickSize": -6, "labels": false, "title": null}},
        "y": {"field": "logratio", "type": "quantitative",
              "axis": {"orient": "right", "offset": -195, "values": [0.301,0.477,0.602,0.699,0.778,0.845,0.903,0.954,1.301,1.477,1.602,1.699,1.778,1.845,1.903,1.954,2.301], "tickSize": -6, "labels": false, "title": null}},
        "color": {"field": "y_param", "type": "quantitative", "scale": {"scheme": "oranges", "domain": [0, 1]}, "legend": null},
        "detail": {"field": "series"}
      }
    }
  ],
  "resolve": {"axis": {"x": "independent", "y": "independent"}}
},
{
  "data": {"values": [{}]},
  "layer": [
    {
      "mark": {"type": "rect", "stroke": "black", "strokeWidth": 1.5,
               "fill": {"gradient": "linear", "x1": 0, "y1": 0, "x2": 1, "y2": 0, "stops": [
                 {"offset": 0, "color": "#fff5eb"}, {"offset": 0.125, "color": "#fee6ce"}, {"offset": 0.25, "color": "#fdd0a2"},
                 {"offset": 0.375, "color": "#fdae6b"}, {"offset": 0.5, "color": "#fd8d3c"}, {"offset": 0.625, "color": "#f16913"},
                 {"offset": 0.75, "color": "#d94801"}, {"offset": 0.875, "color": "#a63603"}, {"offset": 1, "color": "#7f2704"}]}},
      "encoding": {
        "x": {"datum": 0, "type": "quantitative", "scale": {"domain": [0, 1], "nice": false, "zero": false},
              "axis": {"orient": "top", "offset": 37, "values": [0, 0.2, 0.4, 0.6, 0.8, 1], "format": ".1f", "tickSize": -14, "labelPadding": 20, "title": "y", "titleFontStyle": "italic", "titleFontSize": 24, "titlePadding": -6}},
        "x2": {"datum": 1},
        "y": {"datum": 0, "type": "quantitative", "scale": {"domain": [0, 1], "range": [-19, -37], "nice": false, "zero": false}, "axis": null},
        "y2": {"datum": 1}
      }
    },
    {
      "mark": {"type": "rect", "opacity": 0},
      "encoding": {
        "x": {"datum": 0, "type": "quantitative",
              "axis": {"orient": "top", "offset": 37, "values": [0.05,0.1,0.15,0.25,0.3,0.35,0.45,0.5,0.55,0.65,0.7,0.75,0.85,0.9,0.95], "tickSize": -7, "labels": false, "title": null}},
        "x2": {"datum": 1},
        "y": {"datum": 0, "type": "quantitative", "axis": null},
        "y2": {"datum": 1}
      }
    }
  ],
  "resolve": {"axis": {"x": "independent", "y": "independent"}}
}
],
"resolve": {"scale": {"x": "independent", "y": "independent", "stroke": "independent", "color": "independent"}}
}
